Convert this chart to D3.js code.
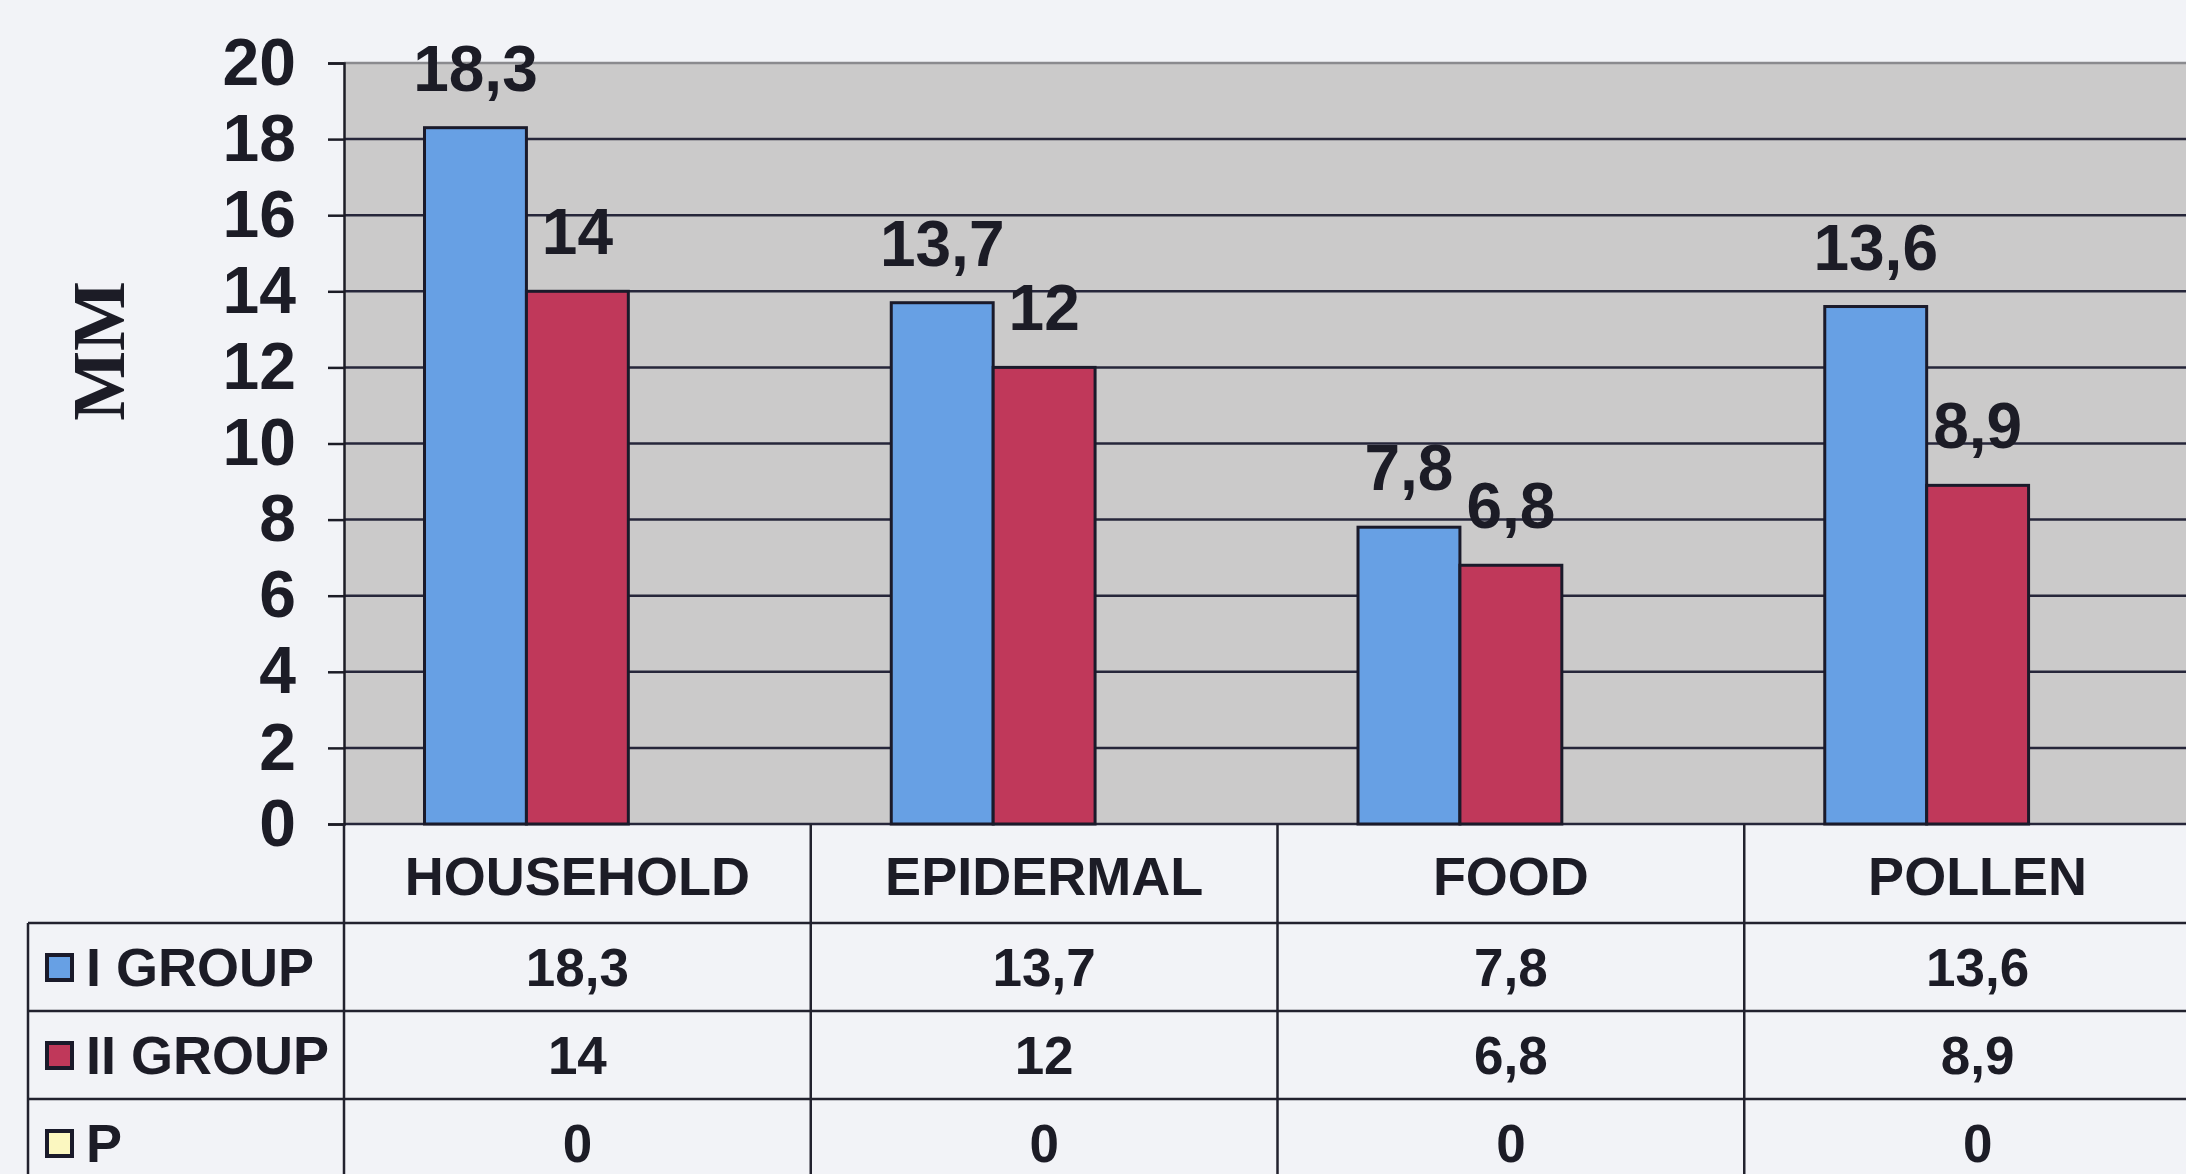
<!DOCTYPE html>
<html>
<head>
<meta charset="utf-8">
<script src="https://cdn.jsdelivr.net/npm/d3@7"></script>
<style>
  body { margin: 0; background: #f2f3f7; overflow: hidden; }
  svg { display: block; }
  text { font-family: "Liberation Sans", Arial, sans-serif; font-weight: bold; fill: #1c1c26; }
</style>
</head>
<body>
<script>
// chart data
var categories = ["HOUSEHOLD", "EPIDERMAL", "FOOD", "POLLEN"];
var seriesNames = ["I GROUP", "II GROUP", "P"];
var groupOne = [18.3, 13.7, 7.8, 13.6];
var groupTwo = [14, 12, 6.8, 8.9];
var pValues = [0, 0, 0, 0];
var yTicks = [0, 2, 4, 6, 8, 10, 12, 14, 16, 18, 20];
var axisTitle = "MM";

var seriesColors = ["#67a0e4", "#c0385a", "#fbf7c0"];
var allSeries = [groupOne, groupTwo, pValues];

var svgWidth = 2186;
var svgHeight = 1174;
var plotLeft = 344, plotRight = 2211, plotTop = 63, plotBottom = 824;
var headerBottom = 923, rowHeight = 88, tableLeft = 28;

var svg = d3.select("body").append("svg").attr("width", svgWidth).attr("height", svgHeight);

var x0 = d3.scaleBand().domain(categories).range([plotLeft, plotRight]);
var x1 = d3.scaleBand().domain(seriesNames).range([0, x0.bandwidth()]).paddingOuter(0.79);
var y = d3.scaleLinear().domain([0, 20]).range([plotBottom, plotTop]);

function fmt(v) { return String(v).replace(".", ","); }

// plot background
svg.append("rect")
  .attr("x", plotLeft).attr("y", plotTop)
  .attr("width", plotRight - plotLeft).attr("height", plotBottom - plotTop)
  .attr("fill", "#cbcaca");

// gridlines
svg.selectAll("line.grid").data(yTicks).enter()
  .append("line").attr("class", "grid")
  .attr("x1", plotLeft).attr("x2", plotRight)
  .attr("y1", function(d){ return y(d); })
  .attr("y2", function(d){ return y(d); })
  .attr("stroke", function(d){ return d == 20 ? "#8a8a8e" : "#26263a"; })
  .attr("stroke-width", 2.5);

// y axis
var yAxis = svg.append("g")
  .attr("transform", "translate(" + plotLeft + ",0)")
  .call(d3.axisLeft(y).tickValues(yTicks).tickSize(16).tickPadding(32));
yAxis.select(".domain").attr("stroke", "#1c1c26").attr("stroke-width", 2.5);
yAxis.selectAll(".tick line").attr("stroke", "#1c1c26").attr("stroke-width", 2.5);
yAxis.selectAll(".tick text")
  .attr("font-size", "66px")
  .attr("font-family", "'Liberation Sans', Arial, sans-serif")
  .attr("font-weight", "bold")
  .attr("fill", "#1c1c26");

svg.append("text")
  .attr("transform", "translate(124,351) rotate(-90)")
  .attr("text-anchor", "middle")
  .style("font-family", "'Liberation Serif', 'Times New Roman', serif")
  .style("font-weight", "900")
  .attr("font-size", "74px")
  .text(axisTitle);

// bars
allSeries.forEach(function(values, s){
  svg.selectAll("rect.s" + s).data(values).enter()
    .append("rect").attr("class", "s" + s)
    .attr("x", function(d, i){ return x0(categories[i]) + x1(seriesNames[s]); })
    .attr("y", function(d){ return y(d); })
    .attr("width", x1.bandwidth())
    .attr("height", function(d){ return y(0) - y(d); })
    .attr("fill", seriesColors[s])
    .attr("stroke", "#1a1a2a")
    .attr("stroke-width", d3.max(values) > 0 ? 3 : 0);
});

// value labels over the bars
[groupOne, groupTwo].forEach(function(values, s){
  svg.selectAll("text.lab" + s).data(values).enter()
    .append("text").attr("class", "lab" + s)
    .attr("x", function(d, i){ return x0(categories[i]) + x1(seriesNames[s]) + x1.bandwidth() / 2; })
    .attr("y", function(d){ return y(d) - 37; })
    .attr("text-anchor", "middle")
    .attr("font-size", "64px")
    .text(fmt);
});

// data table
var tableLines = svg.append("g").attr("stroke", "#22222e").attr("stroke-width", 2.5);
var rowTops = seriesNames.map(function(d, i){ return headerBottom + i * rowHeight; });

rowTops.forEach(function(t){
  tableLines.append("line")
    .attr("x1", tableLeft).attr("x2", plotRight)
    .attr("y1", t).attr("y2", t);
});
tableLines.append("line")
  .attr("x1", tableLeft).attr("x2", tableLeft)
  .attr("y1", headerBottom).attr("y2", svgHeight + 20);
categories.forEach(function(c){
  tableLines.append("line")
    .attr("x1", x0(c)).attr("x2", x0(c))
    .attr("y1", plotBottom).attr("y2", svgHeight + 20);
});

svg.selectAll("text.cat").data(categories).enter()
  .append("text").attr("class", "cat")
  .attr("x", function(d){ return x0(d) + x0.bandwidth() / 2; })
  .attr("y", 895)
  .attr("text-anchor", "middle")
  .attr("font-size", "54px")
  .text(function(d){ return d; });

allSeries.forEach(function(values, s){
  var base = rowTops[s] + rowHeight / 2 + 19;
  svg.append("rect")
    .attr("x", 47).attr("y", rowTops[s] + rowHeight / 2 - 12)
    .attr("width", 25).attr("height", 25)
    .attr("fill", seriesColors[s])
    .attr("stroke", "#1a1a2a").attr("stroke-width", 4);
  svg.append("text")
    .attr("x", 86).attr("y", base)
    .attr("font-size", "54px")
    .text(seriesNames[s]);
  svg.selectAll("text.val" + s).data(values).enter()
    .append("text").attr("class", "val" + s)
    .attr("x", function(d, i){ return x0(categories[i]) + x0.bandwidth() / 2; })
    .attr("y", base)
    .attr("text-anchor", "middle")
    .attr("font-size", "53px")
    .text(fmt);
});
</script>
</body>
</html>
